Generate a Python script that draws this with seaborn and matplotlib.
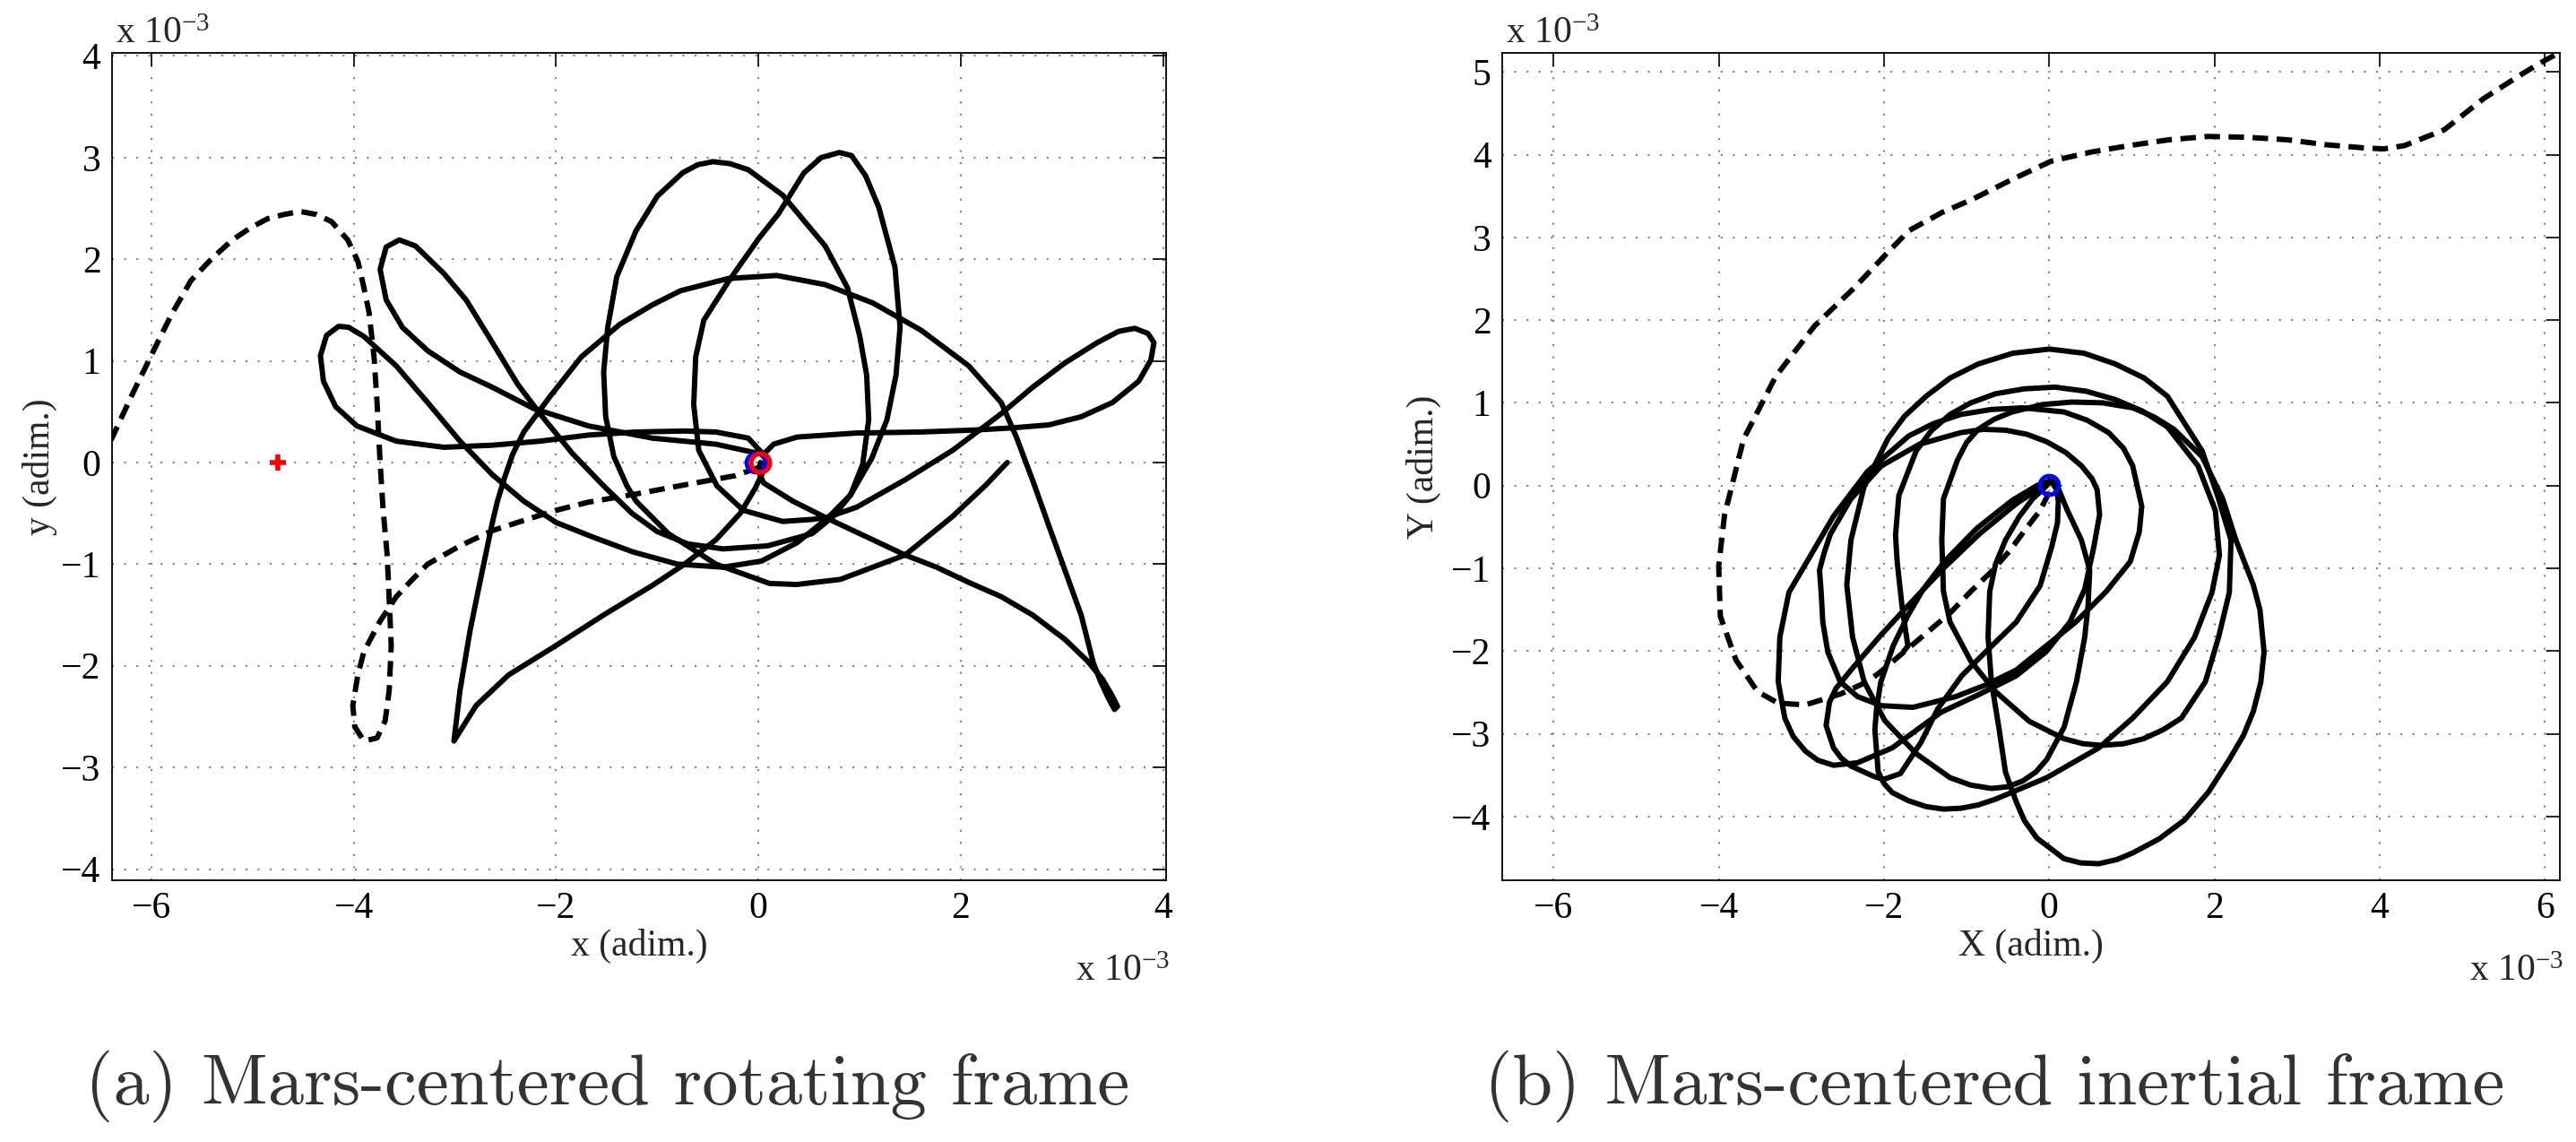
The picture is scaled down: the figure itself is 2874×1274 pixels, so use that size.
import numpy as np
import matplotlib
matplotlib.use("Agg")
import matplotlib.pyplot as plt
import seaborn as sns

# ---- data (units of 1e-3, adim.) ----
# (a) rotating frame: solid trajectory, dashed trajectory, markers
rot_solid = [
    (0.02, 0.00), (0.00, -0.08), (0.05, -0.20), (0.34, -0.38), (0.66, -0.54), (1.13, -0.76),
    (1.45, -0.91), (1.76, -1.03), (2.08, -1.18), (2.40, -1.32), (2.71, -1.50), (3.03, -1.74),
    (3.25, -1.95), (3.40, -2.13), (3.50, -2.30), (3.55, -2.40), (3.52, -2.43), (3.46, -2.32),
    (3.38, -2.15), (3.31, -1.97), (3.19, -1.50), (3.03, -1.06), (2.87, -0.62), (2.72, -0.20),
    (2.55, 0.25), (2.40, 0.59), (2.08, 0.95), (1.61, 1.30), (1.13, 1.57), (0.66, 1.75),
    (0.18, 1.84), (-0.30, 1.81), (-0.77, 1.69), (-1.05, 1.55), (-1.37, 1.36), (-1.75, 1.04),
    (-2.06, 0.65), (-2.32, 0.30), (-2.43, 0.08), (-2.51, -0.15), (-2.58, -0.38), (-2.63, -0.59),
    (-2.76, -1.21), (-2.85, -1.65), (-2.95, -2.24), (-3.01, -2.74),
    (-2.79, -2.39), (-2.47, -2.09), (-2.00, -1.80), (-1.53, -1.50), (-1.05, -1.21), (-0.73, -1.00),
    (-0.42, -0.76), (-0.18, -0.50), (-0.03, -0.25), (0.07, -0.04), (0.07, 0.10), (0.15, 0.18),
    (0.38, 0.25), (0.97, 0.29), (1.60, 0.30), (2.15, 0.32), (2.50, 0.34), (2.87, 0.37),
    (3.19, 0.45), (3.50, 0.59), (3.76, 0.80), (3.88, 1.01), (3.91, 1.18), (3.85, 1.27),
    (3.72, 1.32), (3.56, 1.29), (3.35, 1.18), (3.03, 0.98), (2.71, 0.74), (2.40, 0.48),
    (1.92, 0.12), (1.45, -0.17), (0.97, -0.44), (0.68, -0.54), (0.53, -0.56), (0.24, -0.58),
    (-0.15, -0.47), (-0.41, -0.23), (-0.59, 0.12), (-0.64, 0.57), (-0.62, 1.04), (-0.54, 1.40),
    (-0.29, 1.79), (0.00, 2.20), (0.20, 2.45), (0.45, 2.85), (0.62, 3.00), (0.80, 3.05),
    (0.92, 3.02), (1.06, 2.82), (1.19, 2.51), (1.35, 1.92), (1.40, 1.33), (1.36, 0.86),
    (1.27, 0.42), (1.12, 0.04), (0.91, -0.32), (0.68, -0.55), (0.38, -0.79), (0.03, -0.97),
    (-0.35, -1.03), (-0.80, -1.00), (-1.24, -0.88), (-1.62, -0.74), (-2.00, -0.59), (-2.32, -0.38),
    (-2.63, -0.12), (-2.95, 0.21), (-3.27, 0.59), (-3.58, 0.95), (-3.90, 1.24), (-4.05, 1.33),
    (-4.15, 1.34), (-4.27, 1.25), (-4.33, 1.05), (-4.30, 0.80), (-4.18, 0.55), (-3.97, 0.36),
    (-3.58, 0.21), (-3.11, 0.15), (-2.63, 0.17), (-2.16, 0.21), (-1.68, 0.27), (-1.21, 0.30),
    (-0.73, 0.31), (-0.42, 0.30), (-0.10, 0.24), (0.03, 0.10),
    (-0.05, 0.10), (-0.42, 0.18), (-1.05, 0.24), (-1.68, 0.36), (-2.22, 0.53), (-2.63, 0.74),
    (-2.95, 0.89), (-3.27, 1.10), (-3.52, 1.33), (-3.68, 1.60), (-3.74, 1.90), (-3.68, 2.12),
    (-3.55, 2.19), (-3.39, 2.13), (-3.11, 1.86), (-2.89, 1.60), (-2.63, 1.18), (-2.38, 0.77),
    (-2.16, 0.48), (-1.84, 0.09), (-1.53, -0.23), (-1.25, -0.50), (-1.00, -0.68), (-0.70, -0.80),
    (-0.35, -0.85), (0.09, -0.82), (0.53, -0.70), (0.74, -0.53), (0.91, -0.32), (1.03, -0.02),
    (1.09, 0.42), (1.07, 0.86), (1.00, 1.25), (0.88, 1.72), (0.66, 2.13), (0.24, 2.63),
    (-0.10, 2.88), (-0.28, 2.94), (-0.45, 2.96), (-0.60, 2.93), (-0.75, 2.85), (-1.00, 2.62),
    (-1.21, 2.28), (-1.40, 1.83), (-1.49, 1.33), (-1.53, 0.89), (-1.51, 0.45), (-1.43, 0.06),
    (-1.30, -0.23), (-1.21, -0.38), (-0.89, -0.70), (-0.42, -1.00), (0.11, -1.19), (0.38, -1.20),
    (0.81, -1.15), (1.45, -0.91), (1.92, -0.53), (2.25, -0.22), (2.46, 0.00),
]
rot_dashed = [
    (0.00, -0.05), (-0.23, -0.13), (-0.73, -0.22), (-1.21, -0.31), (-1.68, -0.39), (-2.00, -0.47),
    (-2.32, -0.57), (-2.63, -0.67), (-2.95, -0.82), (-3.27, -1.00), (-3.42, -1.15), (-3.58, -1.32),
    (-3.74, -1.56), (-3.90, -1.86), (-3.96, -2.09), (-4.01, -2.39), (-3.99, -2.60), (-3.90, -2.74),
    (-3.77, -2.71), (-3.69, -2.54), (-3.65, -2.24), (-3.63, -1.80), (-3.65, -1.35), (-3.67, -0.91),
    (-3.71, -0.47), (-3.74, 0.00), (-3.77, 0.59), (-3.80, 1.04), (-3.85, 1.48), (-3.90, 1.72),
    (-3.96, 1.98), (-4.06, 2.19), (-4.22, 2.37), (-4.37, 2.44), (-4.53, 2.47), (-4.69, 2.44),
    (-4.85, 2.40), (-5.02, 2.31), (-5.20, 2.19), (-5.40, 2.01), (-5.61, 1.79), (-5.80, 1.46),
    (-5.98, 1.10), (-6.19, 0.67), (-6.40, 0.22),
]
rot_phobos = (0.02, 0.0)
rot_start = (-0.03, 0.0)
rot_cross = (-4.75, 0.0)

# (b) inertial frame: four solid pieces, one dashed trajectory
inert_solid_a = [
    (0.02, 0.06), (-0.05, -0.02), (-0.20, -0.16), (-0.36, -0.37), (-0.53, -0.66), (-0.65, -0.95),
    (-0.72, -1.28), (-0.74, -1.83), (-0.70, -2.37), (-0.61, -2.92), (-0.53, -3.46), (-0.40, -3.82),
    (-0.30, -4.05), (-0.15, -4.26), (0.18, -4.51), (0.38, -4.56), (0.60, -4.57), (0.82, -4.52),
    (1.01, -4.44), (1.33, -4.27), (1.64, -4.04), (1.93, -3.70), (2.18, -3.31), (2.35, -3.02),
    (2.47, -2.73), (2.56, -2.38), (2.60, -2.01), (2.55, -1.50), (2.47, -1.20), (2.26, -0.66),
    (2.10, -0.16), (1.85, 0.35), (1.51, 0.68), (1.27, 0.83), (1.01, 0.94), (0.65, 1.00),
    (0.28, 1.01), (-0.08, 0.98), (-0.45, 0.89), (-0.67, 0.80), (-0.86, 0.68), (-1.00, 0.52),
    (-1.11, 0.31), (-1.28, -0.16), (-1.30, -0.66), (-1.28, -1.28), (-1.20, -1.65), (-0.95, -2.12),
    (-0.65, -2.49), (-0.24, -2.85), (0.18, -3.06), (0.41, -3.12), (0.64, -3.14), (0.90, -3.12),
    (1.14, -3.06), (1.38, -2.95), (1.60, -2.81), (1.89, -2.37), (2.05, -1.83), (2.18, -1.29),
    (2.20, -0.66), (2.05, -0.16), (1.85, 0.42), (1.43, 1.08), (1.15, 1.30), (0.80, 1.47),
    (0.42, 1.60), (0.00, 1.65), (-0.44, 1.60), (-0.86, 1.47), (-1.20, 1.30), (-1.49, 1.08),
    (-1.75, 0.84), (-1.95, 0.57), (-2.24, -0.01), (-2.40, -0.66), (-2.45, -1.20), (-2.38, -1.83),
    (-2.24, -2.37), (-1.99, -2.84), (-1.61, -3.24), (-1.20, -3.53), (-0.95, -3.62), (-0.70, -3.66),
    (-0.50, -3.64), (-0.32, -3.57), (-0.16, -3.46), (-0.03, -3.31), (0.18, -2.92), (0.33, -2.37),
    (0.43, -1.83), (0.47, -1.45), (0.49, -1.02), (0.39, -0.66), (0.22, -0.30), (0.10, -0.01),
    (0.02, 0.06),
]
inert_solid_b = [
    (0.02, 0.06), (-0.15, 0.00), (-0.45, -0.18), (-0.88, -0.52), (-1.27, -0.92), (-1.53, -1.26),
    (-1.71, -1.57), (-1.89, -1.94), (-2.04, -2.38), (-2.09, -2.70), (-2.11, -2.95), (-2.07, -3.46),
    (-2.00, -3.60), (-1.90, -3.71), (-1.70, -3.81), (-1.49, -3.88), (-1.28, -3.91), (-1.07, -3.90),
    (-0.86, -3.86), (-0.65, -3.79), (-0.03, -3.53), (0.60, -3.17), (1.01, -2.81), (1.43, -2.37),
    (1.76, -1.83), (1.97, -1.29), (2.06, -0.84), (2.01, -0.30), (1.80, 0.24), (1.43, 0.71),
    (1.13, 0.90), (0.80, 1.04), (0.45, 1.14), (0.07, 1.19), (-0.30, 1.17), (-0.65, 1.11),
    (-0.95, 1.00), (-1.20, 0.86), (-1.43, 0.66), (-1.61, 0.42), (-1.82, -0.12), (-1.86, -0.60),
    (-1.84, -0.92), (-1.78, -1.47), (-1.71, -1.94), (-1.76, -2.00),
]
inert_solid_c = [
    (0.02, 0.06), (0.09, -0.05), (0.11, -0.19), (0.10, -0.45), (0.03, -0.74), (-0.11, -1.21),
    (-0.40, -1.65), (-0.77, -2.01), (-1.06, -2.30), (-1.35, -2.70), (-1.55, -3.10), (-1.80, -3.48),
    (-2.00, -3.55), (-2.11, -3.52), (-2.40, -3.39), (-2.52, -3.29), (-2.61, -3.17), (-2.70, -2.90),
    (-2.66, -2.62), (-2.58, -2.45), (-2.40, -2.23), (-2.04, -1.81), (-1.67, -1.41), (-1.27, -0.99),
    (-0.84, -0.58), (-0.40, -0.22), (-0.10, -0.02), (0.02, 0.06),
]
inert_solid_d = [
    (-0.53, 0.67), (-0.27, 0.62), (-0.03, 0.53), (0.20, 0.40), (0.39, 0.24), (0.52, 0.08),
    (0.58, -0.05), (0.61, -0.35), (0.54, -0.74), (0.43, -1.25), (0.25, -1.65), (-0.04, -2.01),
    (-0.40, -2.30), (-0.84, -2.52), (-1.31, -2.74), (-1.90, -3.17), (-2.32, -3.35), (-2.61, -3.38),
    (-2.80, -3.32), (-2.95, -3.21), (-3.10, -3.03), (-3.20, -2.81), (-3.28, -2.37), (-3.26, -1.83),
    (-3.15, -1.29), (-2.95, -0.95), (-2.61, -0.37), (-2.20, 0.17), (-1.70, 0.60), (-1.40, 0.75),
    (-1.07, 0.86), (-0.70, 0.92), (-0.32, 0.94), (0.18, 0.89), (0.46, 0.79), (0.72, 0.64),
    (0.90, 0.45), (1.01, 0.24), (1.12, -0.25), (1.09, -0.56), (0.98, -0.92), (0.69, -1.28),
    (0.32, -1.65), (-0.04, -1.94), (-0.40, -2.23), (-0.77, -2.41), (-1.13, -2.55), (-1.65, -2.68),
    (-2.03, -2.66), (-2.32, -2.55), (-2.53, -2.37), (-2.68, -2.01), (-2.74, -1.65), (-2.76, -1.29),
    (-2.78, -1.02), (-2.72, -0.80), (-2.65, -0.59), (-2.40, -0.16), (-2.03, 0.24), (-1.57, 0.50),
    (-1.07, 0.64), (-0.80, 0.68), (-0.53, 0.67),
]
inert_dashed = [
    (0.00, -0.08), (-0.11, -0.30), (-0.28, -0.52), (-0.48, -0.79), (-0.69, -1.03), (-0.95, -1.28),
    (-1.20, -1.54), (-1.46, -1.76), (-1.71, -1.97), (-2.04, -2.25), (-2.20, -2.37), (-2.53, -2.52),
    (-2.95, -2.65), (-3.28, -2.63), (-3.53, -2.49), (-3.79, -2.11), (-3.98, -1.58), (-4.00, -0.97),
    (-3.93, -0.36), (-3.70, 0.56), (-3.31, 1.32), (-2.84, 1.93), (-2.36, 2.39), (-2.00, 2.77),
    (-1.70, 3.08), (-1.30, 3.30), (-0.93, 3.46), (-0.45, 3.70), (0.02, 3.92), (0.50, 4.03),
    (0.97, 4.11), (1.45, 4.18), (1.92, 4.22), (2.40, 4.21), (2.88, 4.18), (3.35, 4.12),
    (3.83, 4.08), (4.05, 4.07), (4.30, 4.11), (4.78, 4.30), (5.26, 4.68), (5.73, 4.98),
    (6.00, 5.14), (6.15, 5.22),
]
inert_start = (0.0, 0.01)

rot_xticks = [-6, -4, -2, 0, 2, 4]
rot_yticks = [-4, -3, -2, -1, 0, 1, 2, 3, 4]
inert_xticks = [-6, -4, -2, 0, 2, 4, 6]
inert_yticks = [-4, -3, -2, -1, 0, 1, 2, 3, 4, 5]

# ---- style ----
sns.set_style("white")
plt.rcParams["font.family"] = ["Liberation Serif", "DejaVu Serif"]
plt.rcParams["mathtext.fontset"] = "custom"
plt.rcParams["mathtext.rm"] = "Liberation Serif"
plt.rcParams["mathtext.it"] = "Liberation Serif:italic"

W, H = 2874, 1274
fig = plt.figure(figsize=(W / 100, H / 100), dpi=100)
fig.patch.set_facecolor("white")

ax1 = fig.add_axes([125 / W, 1 - 982 / H, 1176 / W, 923 / H])
ax2 = fig.add_axes([1676 / W, 1 - 982 / H, 1180 / W, 923 / H])

LW = 4.3
DASH = (0, (2.9, 1.6))


def draw(ax, pts, dashed=False):
    arr = np.array(pts)
    kw = dict(linestyle=DASH, dash_capstyle="butt", dash_joinstyle="round") if dashed else dict(
        solid_joinstyle="round", solid_capstyle="round")
    sns.lineplot(x=arr[:, 0], y=arr[:, 1], sort=False, estimator=None,
                 color="black", linewidth=LW, ax=ax, zorder=3, **kw)


def minus(t):
    return str(t) if t >= 0 else "\u2212" + str(-t)


def style_axes(ax, xlim, ylim, xticks, yticks, xlabel, ylabel, ylab_x):
    ax.set_xlim(*xlim)
    ax.set_ylim(*ylim)
    ax.set_xticks(xticks)
    ax.set_yticks(yticks)
    ax.set_xticklabels([minus(t) for t in xticks])
    ax.set_yticklabels([minus(t) for t in yticks])
    ax.tick_params(direction="in", top=True, right=True, length=11, width=1.2,
                   labelsize=30, pad=9, colors="black")
    ax.grid(True, linestyle=(0, (1, 5.5)), linewidth=1.5, color="#808080", zorder=0)
    for s in ax.spines.values():
        s.set_visible(True)
        s.set_color("black")
        s.set_linewidth(1.3)
    ax.set_xlabel(xlabel, fontsize=30)
    ax.set_ylabel(ylabel, fontsize=30)
    ax.xaxis.set_label_coords(0.5, -0.058)
    ax.yaxis.set_label_coords(ylab_x, 0.5)
    # MATLAB-style exponent labels
    ax.text(0.003, 1.012, "x 10$^{-3}$", transform=ax.transAxes, fontsize=30,
            ha="left", va="baseline")
    ax.text(1.003, -0.121, "x 10$^{-3}$", transform=ax.transAxes, fontsize=30,
            ha="right", va="baseline")


# (a) rotating frame
draw(ax1, rot_dashed, dashed=True)
draw(ax1, rot_solid)
ax1.plot(*rot_start, marker="o", ms=15, mfc="none", mec="blue", mew=3.4, zorder=5)
ax1.plot(*rot_phobos, marker="o", ms=15, mfc="none", mec="red", mew=3.8, zorder=6)
ax1.plot(*rot_cross, marker="+", ms=13, mec="red", mew=4.0, zorder=6)
style_axes(ax1, (-6.39, 4.03), (-4.11, 4.03), rot_xticks, rot_yticks,
           "x (adim.)", "y (adim.)", -0.052)

# (b) inertial frame
draw(ax2, inert_dashed, dashed=True)
for seg in (inert_solid_a, inert_solid_b, inert_solid_c, inert_solid_d):
    draw(ax2, seg)
ax2.plot(*inert_start, marker="o", ms=15, mfc="none", mec="blue", mew=3.6, zorder=6)
style_axes(ax2, (-6.62, 6.18), (-4.77, 5.23), inert_xticks, inert_yticks,
           "X (adim.)", "Y (adim.)", -0.058)

# captions
fig.text(678 / W, 1 - 1232 / H, "(a) Mars-centered rotating frame", family="cmr10",
         fontsize=58, color="#333333", ha="center", va="baseline")
fig.text(2225 / W, 1 - 1232 / H, "(b) Mars-centered inertial frame", family="cmr10",
         fontsize=58, color="#333333", ha="center", va="baseline")

fig.savefig("out.png", dpi=100, facecolor="white")
